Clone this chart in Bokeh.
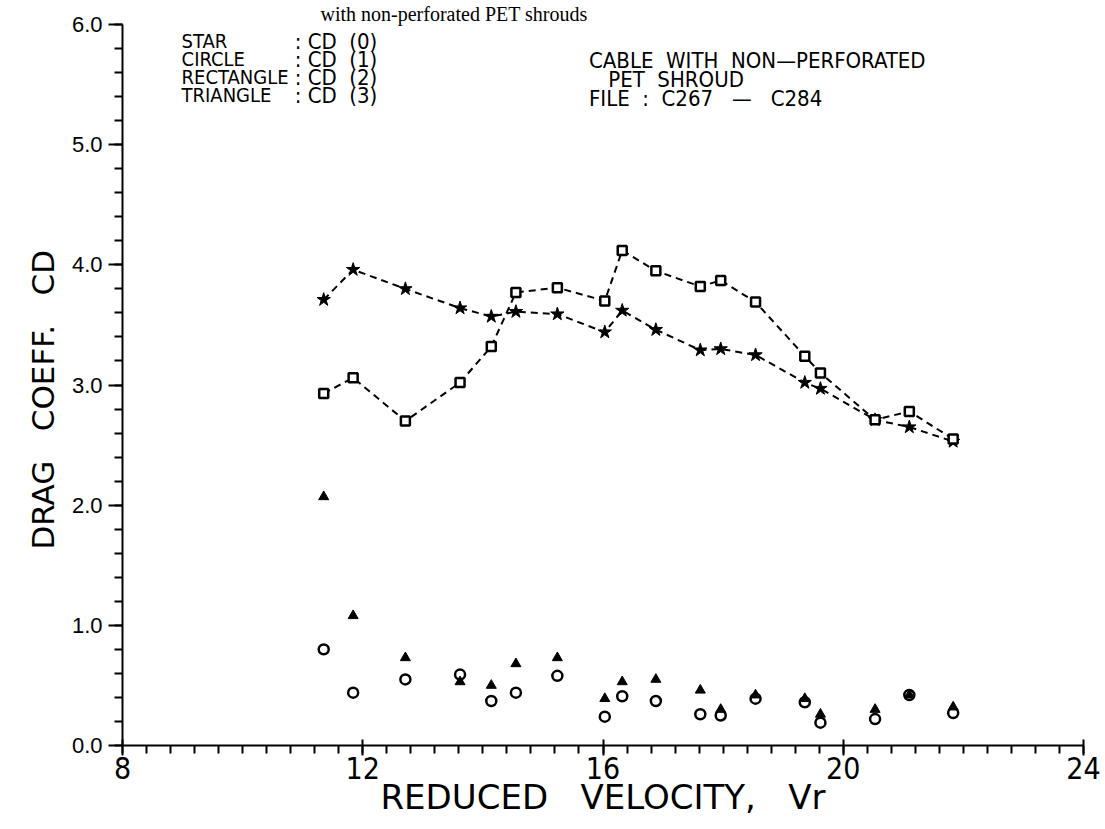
from bokeh.plotting import figure
from bokeh.models import Label, FixedTicker, NumeralTickFormatter
from bokeh.embed import file_html
from bokeh.resources import INLINE

# Reduced velocity (shared by all series)
vr = [11.35, 11.84, 12.71, 13.62, 14.14, 14.55, 15.24, 16.03, 16.32, 16.88,
      17.62, 17.96, 18.54, 19.36, 19.62, 20.53, 21.10, 21.83]
# STAR : CD (0)
cd0 = [3.71, 3.96, 3.80, 3.64, 3.57, 3.61, 3.59, 3.44, 3.62, 3.46,
       3.29, 3.30, 3.25, 3.02, 2.97, 2.71, 2.65, 2.53]
# CIRCLE : CD (1)
cd1 = [0.80, 0.44, 0.55, 0.59, 0.37, 0.44, 0.58, 0.24, 0.41, 0.37,
       0.26, 0.25, 0.39, 0.36, 0.19, 0.22, 0.42, 0.27]
# RECTANGLE : CD (2)
cd2 = [2.93, 3.06, 2.70, 3.02, 3.32, 3.77, 3.81, 3.70, 4.12, 3.95,
       3.82, 3.87, 3.69, 3.24, 3.10, 2.71, 2.78, 2.55]
# TRIANGLE : CD (3)
cd3 = [2.07, 1.08, 0.73, 0.53, 0.50, 0.68, 0.73, 0.39, 0.53, 0.55,
       0.46, 0.30, 0.42, 0.39, 0.26, 0.30, 0.42, 0.32]

x_ticks = [8, 12, 16, 20, 24]
y_ticks = [0, 1, 2, 3, 4, 5, 6]

NARROW = "DejaVu Sans Condensed"
SP = "\u00a0"

p = figure(width=1105, height=829, x_range=(8, 24), y_range=(0, 6),
           output_backend="svg", toolbar_location=None,
           min_border_left=122, min_border_right=22,
           min_border_top=23, min_border_bottom=84,
           title="with non-perforated PET shrouds")
p.title.align = "left"
p.title.offset = 198
p.title.text_font = "Liberation Serif"
p.title.text_font_size = "20px"
p.title.text_font_style = "normal"
p.title.text_color = "black"
p.title.standoff = 0
p.outline_line_color = None
p.grid.visible = False
p.background_fill_color = "white"
p.border_fill_color = "white"

# axes
p.xaxis.ticker = FixedTicker(ticks=x_ticks,
                             minor_ticks=[8 + 0.4 * i for i in range(41)])
p.yaxis.ticker = FixedTicker(ticks=y_ticks,
                             minor_ticks=[0.2 * i for i in range(31)])
p.yaxis.formatter = NumeralTickFormatter(format="0.0")
for ax in (p.xaxis[0], p.yaxis[0]):
    ax.axis_line_color = "black"
    ax.axis_line_width = 2
    ax.major_tick_line_color = "black"
    ax.minor_tick_line_color = "black"
    ax.major_tick_line_width = 2
    ax.minor_tick_line_width = 2
    ax.major_label_text_color = "black"
    ax.axis_label_text_color = "black"
    ax.axis_label_text_font_style = "normal"

p.xaxis.major_tick_in = 6
p.xaxis.major_tick_out = 10
p.xaxis.minor_tick_in = 0
p.xaxis.minor_tick_out = 8
p.xaxis.major_label_text_font = NARROW
p.xaxis.major_label_text_font_size = "30px"
p.xaxis.major_label_standoff = 1
p.xaxis.axis_label = "REDUCED" + SP * 3 + "VELOCITY," + SP * 3 + "Vr"
p.xaxis.axis_label_text_font = "DejaVu Sans"
p.xaxis.axis_label_text_font_size = "34px"
p.xaxis.axis_label_standoff = -5

p.yaxis.major_tick_in = 0
p.yaxis.major_tick_out = 14
p.yaxis.minor_tick_in = 0
p.yaxis.minor_tick_out = 8
p.yaxis.major_label_text_font = "Liberation Sans"
p.yaxis.major_label_text_font_size = "22px"
p.yaxis.major_label_standoff = 6
p.yaxis.axis_label = "DRAG" + SP * 3 + "COEFF." + SP * 3 + "CD" + SP * 3
p.yaxis.axis_label_text_font = "DejaVu Sans"
p.yaxis.axis_label_text_font_size = "31px"
p.yaxis.axis_label_standoff = 8

# series
p.line(vr, cd0, line_color="black", line_width=2, line_dash="7 5")
p.line(vr, cd2, line_color="black", line_width=2, line_dash="7 5")
p.scatter(vr, cd0, marker="star", size=14, fill_color="black",
          line_color="black", line_width=1)
p.scatter(vr, cd2, marker="square", size=9, fill_color="white",
          line_color="black", line_width=2.5)
p.scatter(vr, cd1, marker="circle", size=10, fill_color="white",
          line_color="black", line_width=2.5)
p.scatter(vr, cd3, marker="triangle", size=10, fill_color="black",
          line_color="black", line_width=1)

def px_to_x(px):
    return 8 + (px - 124) / 60.0

def py_to_y(py):
    return (745 - py) / 120.3

def add_text(px, py, text, font=NARROW, size="21px", align="left"):
    p.add_layout(Label(x=px_to_x(px), y=py_to_y(py), text=text,
                       text_font=font, text_font_size=size,
                       text_align=align, text_baseline="middle",
                       text_color="black"))

names = ["STAR", "CIRCLE", "RECTANGLE", "TRIANGLE"]
codes = [":" + SP + "CD" + SP * 2 + "(0)", ":" + SP + "CD" + SP * 2 + "(1)",
         ":" + SP + "CD" + SP * 2 + "(2)", ":" + SP + "CD" + SP * 2 + "(3)"]
rows = [40, 58, 76, 94]
for name, code, row in zip(names, codes, rows):
    add_text(183, row, name, size="20px")
    add_text(296, row, code, size="22px")

add_text(590, 59, "CABLE" + SP * 2 + "WITH" + SP * 2 + "NON\u2014PERFORATED",
         size="22px")
add_text(603, 78, SP + "PET" + SP * 2 + "SHROUD", size="22px")
add_text(590, 97, "FILE" + SP * 2 + ":" + SP * 2 + "C267" + SP * 3 + "\u2014"
         + SP * 3 + "C284", size="22px")

open("out.html", "w").write(file_html(p, INLINE))
